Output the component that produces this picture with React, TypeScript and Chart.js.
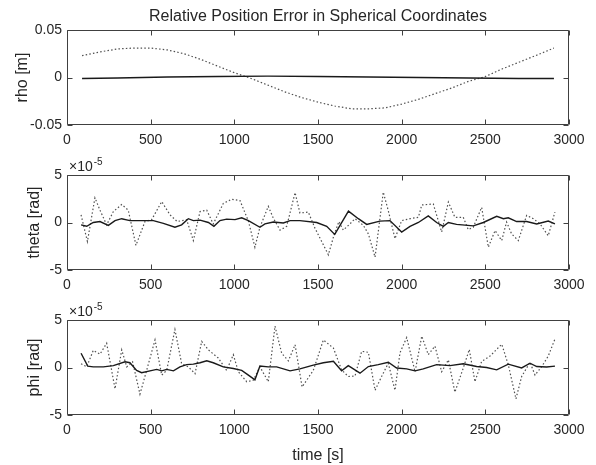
import React, { useEffect, useRef } from 'react';
import { Chart, registerables } from 'chart.js';

Chart.register(...registerables);

// ---------- data ----------
const xTicks = [0, 500, 1000, 1500, 2000, 2500, 3000];
const rhoTicks = [-0.05, 0, 0.05];
const angleTicks = [-5, 0, 5]; // in units of 1e-5 rad

// rho [m]
const rhoLineT = [90, 300, 600, 900, 1200, 1500, 1800, 2100, 2400, 2700, 2910];
const rhoLine = [-0.001, -0.0005, 0.0005, 0.001, 0.0015, 0.001, 0.0005, 0, -0.0005, -0.001, -0.001];
const rhoDotT = [90, 200, 300, 400, 500, 600, 700, 800, 900, 1000, 1100, 1200, 1300, 1400, 1500, 1600, 1700, 1800, 1900, 2000, 2100, 2200, 2300, 2400, 2500, 2600, 2700, 2800, 2910];
const rhoDot = [0.023, 0.027, 0.03, 0.031, 0.031, 0.029, 0.025, 0.019, 0.012, 0.005, -0.001, -0.008, -0.015, -0.021, -0.026, -0.03, -0.033, -0.033, -0.032, -0.028, -0.023, -0.017, -0.011, -0.004, 0.001, 0.009, 0.016, 0.023, 0.031];

// theta [rad] x 1e-5
const thetaLineT = [84, 118, 157, 197, 247, 287, 327, 376, 456, 516, 576, 645, 685, 725, 755, 795, 845, 878, 914, 954, 1004, 1044, 1084, 1153, 1183, 1233, 1293, 1333, 1392, 1492, 1552, 1600, 1682, 1741, 1791, 1870, 1930, 2000, 2050, 2100, 2159, 2209, 2249, 2279, 2328, 2428, 2488, 2568, 2608, 2637, 2687, 2747, 2807, 2876, 2916];
const thetaLine = [-0.25, -0.4, 0, 0.1, -0.3, 0.2, 0.4, 0.2, 0.2, 0.2, -0.1, -0.5, -0.25, 0.4, 0.2, 0.25, 0, -0.4, 0.2, 0.35, 0.3, 0.5, 0.2, -0.5, -0.15, 0.05, -0.05, 0.2, 0.2, 0, -0.4, -1.25, 1.2, 0.4, -0.2, 0.15, 0.2, -1.0, -0.4, 0, 0.7, 0, -0.4, 0, -0.2, -0.35, 0, 0.65, 0.4, 0.5, 0.1, 0.1, -0.15, 0.15, -0.15];
const thetaDotT = [84, 122, 167, 197, 237, 277, 327, 366, 412, 466, 506, 566, 616, 659, 715, 755, 795, 835, 874, 934, 984, 1034, 1084, 1123, 1153, 1203, 1233, 1273, 1313, 1363, 1392, 1442, 1482, 1522, 1562, 1596, 1625, 1651, 1691, 1721, 1771, 1801, 1841, 1890, 1920, 1960, 2000, 2050, 2100, 2120, 2189, 2239, 2279, 2318, 2368, 2398, 2428, 2478, 2518, 2558, 2598, 2627, 2657, 2697, 2747, 2787, 2827, 2876, 2916];
const thetaDot = [0.8, -2.0, 2.6, 1.3, -0.25, 1.15, 1.9, 1.3, -2.4, 0.1, 0.3, 2.2, 0.8, 0.1, 0.3, -1.9, 1.15, 1.3, -0.15, 2.0, 2.45, 2.3, 0.15, -2.6, -0.5, 1.7, 0.45, -0.8, -0.4, 3.15, 1.0, 1.1, -0.6, -2.0, -3.4, -1.3, 0.1, -0.8, -0.15, 0.4, -0.3, -1.2, -3.65, 3.2, 1.25, -1.7, 0.2, 0.4, 0.55, 1.85, 1.95, -1.0, 2.15, 0.55, 0.55, -0.75, -0.5, 1.6, -2.6, -0.85, -1.9, 0.05, -1.2, -1.9, 0.75, 0.4, -0.15, -1.4, 1.1];

// phi [rad] x 1e-5
const phiLineT = [84, 124, 157, 217, 277, 347, 376, 416, 446, 496, 536, 566, 596, 636, 675, 715, 755, 795, 835, 874, 934, 994, 1044, 1084, 1123, 1153, 1203, 1253, 1333, 1392, 1472, 1532, 1592, 1641, 1681, 1751, 1801, 1860, 1920, 1970, 2030, 2080, 2129, 2209, 2289, 2368, 2448, 2508, 2568, 2637, 2717, 2767, 2807, 2866, 2916];
const phiLine = [1.5, 0.15, 0.07, 0.07, 0.2, 0.6, 0.5, -0.3, -0.55, -0.35, -0.2, -0.35, -0.2, -0.35, 0.07, 0.3, 0.35, 0.5, 0.7, 0.5, 0.07, -0.1, -0.3, -0.8, -1.3, 0.15, 0.07, 0.07, -0.35, -0.15, 0.25, 0.5, 0.65, -0.35, 0.2, -0.6, 0.1, 0.3, 0.55, -0.05, -0.15, -0.35, -0.15, 0.3, 0.2, 0.4, 0.1, 0, -0.25, 0.35, -0.05, 0.45, 0.1, 0.05, 0.15];
const phiDotT = [84, 118, 157, 197, 237, 287, 327, 357, 392, 436, 476, 526, 566, 596, 645, 685, 725, 765, 805, 845, 904, 954, 994, 1024, 1074, 1113, 1153, 1203, 1243, 1283, 1323, 1363, 1405, 1472, 1532, 1592, 1641, 1681, 1721, 1761, 1801, 1841, 1880, 1920, 1960, 1990, 2030, 2080, 2120, 2159, 2199, 2239, 2279, 2318, 2368, 2404, 2438, 2478, 2528, 2598, 2637, 2683, 2717, 2767, 2797, 2837, 2876, 2916];
const phiDot = [0.4, 0.07, 1.8, 1.4, 2.55, -2.25, 1.85, 0.07, 0.6, -2.8, -0.3, 2.9, -0.8, -0.3, 4.0, 0.4, 0.07, -0.65, 2.75, 1.85, 1.0, -0.3, 1.35, -0.45, -1.5, -1.35, 0.07, -1.5, 4.35, 1.5, 0.7, 2.4, -2.05, -0.3, 2.9, 2.05, -0.25, -0.95, -0.9, 1.7, 1.6, -2.4, -0.95, 0.45, -2.4, 1.55, 3.15, -0.45, 3.3, 1.35, 2.25, -0.45, 0.8, -2.6, -0.07, 1.9, -1.5, 0.65, 1.2, 2.45, 0.3, -3.3, -0.95, 0.55, -0.8, 0.1, 1.2, 3.0];

// ---------- style ----------
const FONT = "'Liberation Sans', Arial, Helvetica, sans-serif";
const TEXT = '#262626';
const AXIS = '#404040';
const TICK_LEN = 5;

const boxPlugin = {
  id: 'box',
  afterDraw(chart: any, _args: any, opts: any) {
    const { ctx, chartArea: a, scales } = chart;
    const xs = scales.x;
    const ys = scales.y;
    const L = Math.round(a.left) + 0.5;
    const R = Math.round(a.right) - 0.5;
    const T = Math.round(a.top) + 0.5;
    const B = Math.round(a.bottom) - 0.5;
    ctx.save();
    ctx.strokeStyle = AXIS;
    ctx.lineWidth = 1;
    ctx.beginPath();
    ctx.rect(L, T, R - L, B - T);
    xs.ticks.forEach((t: any) => {
      const px = Math.round(xs.getPixelForValue(t.value)) + 0.5;
      ctx.moveTo(px, B);
      ctx.lineTo(px, B - TICK_LEN);
      ctx.moveTo(px, T);
      ctx.lineTo(px, T + TICK_LEN);
    });
    ys.ticks.forEach((t: any) => {
      const py = Math.round(ys.getPixelForValue(t.value)) + 0.5;
      ctx.moveTo(L, py);
      ctx.lineTo(L + TICK_LEN, py);
      ctx.moveTo(R, py);
      ctx.lineTo(R - TICK_LEN, py);
    });
    ctx.stroke();
    ctx.fillStyle = TEXT;
    if (opts && opts.title) {
      ctx.font = `16px ${FONT}`;
      ctx.textAlign = 'center';
      ctx.textBaseline = 'middle';
      ctx.fillText(opts.title, (a.left + a.right) / 2, opts.titleY);
    }
    if (opts && opts.exponent) {
      ctx.textAlign = 'left';
      ctx.textBaseline = 'alphabetic';
      ctx.font = `14px ${FONT}`;
      const base = '\u00d710';
      ctx.fillText(base, a.left + 2, a.top - 4);
      const w = ctx.measureText(base).width;
      ctx.font = `10px ${FONT}`;
      ctx.fillText(opts.exponent, a.left + 2 + w + 1, a.top - 10);
    }
    ctx.restore();
  },
};

type PanelProps = {
  top: number;
  height: number;
  xH: number;
  yMin: number;
  yMax: number;
  yTicks: number[];
  yTitle: string;
  yTitlePad: number;
  lineT: number[];
  line: number[];
  dotT: number[];
  dot: number[];
  title?: string;
  exponent?: string;
  xTitle?: string;
};

function Panel(p: PanelProps) {
  const ref = useRef<HTMLCanvasElement | null>(null);
  useEffect(() => {
    if (!ref.current) return;
    const chart = new Chart(ref.current, {
      type: 'scatter',
      data: {
        datasets: [
          {
            data: p.lineT.map((t, i) => ({ x: t, y: p.line[i] })),
            showLine: true,
            borderColor: '#1a1a1a',
            borderWidth: 1.4,
            pointRadius: 0,
            tension: 0,
            order: 0,
          },
          {
            data: p.dotT.map((t, i) => ({ x: t, y: p.dot[i] })),
            showLine: true,
            borderColor: '#505050',
            borderWidth: 1.2,
            borderDash: [1.5, 2.2],
            pointRadius: 0,
            tension: 0,
            order: 1,
          },
        ],
      },
      options: {
        animation: false,
        responsive: false,
        events: [],
        layout: { padding: { top: 30, right: 27, left: 0, bottom: 0 } },
        plugins: {
          legend: { display: false },
          tooltip: { enabled: false },
          box: { title: p.title, titleY: 17, exponent: p.exponent },
        } as any,
        scales: {
          x: {
            type: 'linear',
            min: 0,
            max: 3000,
            afterBuildTicks: (s: any) => {
              s.ticks = xTicks.map((v) => ({ value: v }));
            },
            afterFit: (s: any) => {
              s.height = p.xH;
            },
            grid: { display: false, drawTicks: false },
            border: { display: false },
            ticks: {
              padding: 7,
              color: TEXT,
              font: { size: 14, family: FONT },
              maxRotation: 0,
              autoSkip: false,
              callback: (v: any) => String(v),
            },
            title: p.xTitle
              ? {
                  display: true,
                  text: p.xTitle,
                  color: TEXT,
                  font: { size: 16, family: FONT },
                  padding: { top: 0, bottom: 0 },
                }
              : { display: false },
          },
          y: {
            type: 'linear',
            min: p.yMin,
            max: p.yMax,
            afterBuildTicks: (s: any) => {
              s.ticks = p.yTicks.map((v) => ({ value: v }));
            },
            afterFit: (s: any) => {
              s.width = 67;
            },
            grid: { display: false, drawTicks: false },
            border: { display: false },
            ticks: {
              padding: 5,
              color: TEXT,
              font: { size: 14, family: FONT },
              callback: (v: any) => String(Math.round(Number(v) * 1000) / 1000),
            },
            title: {
              display: true,
              text: p.yTitle,
              color: TEXT,
              font: { size: 16, family: FONT },
              padding: { top: p.yTitlePad, bottom: 0 },
            },
          },
        },
      } as any,
      plugins: [boxPlugin as any],
    });
    return () => chart.destroy();
  }, []);
  return (
    <canvas
      ref={ref}
      width={596}
      height={p.height}
      style={{ position: 'absolute', left: 0, top: p.top, width: 596, height: p.height }}
    />
  );
}

export default function App() {
  return (
    <div style={{ position: 'fixed', left: 0, top: 0, width: 596, height: 465, background: '#fff', overflow: 'hidden' }}>
      <Panel
        top={0}
        height={145}
        xH={20}
        yMin={-0.05}
        yMax={0.05}
        yTicks={rhoTicks}
        yTitle="rho [m]"
        yTitlePad={13.4}
        lineT={rhoLineT}
        line={rhoLine}
        dotT={rhoDotT}
        dot={rhoDot}
        title="Relative Position Error in Spherical Coordinates"
      />
      <Panel
        top={145}
        height={145}
        xH={20}
        yMin={-5}
        yMax={5}
        yTicks={angleTicks}
        yTitle="theta [rad]"
        yTitlePad={25.4}
        lineT={thetaLineT}
        line={thetaLine}
        dotT={thetaDotT}
        dot={thetaDot}
        exponent="-5"
      />
      <Panel
        top={290}
        height={175}
        xH={50}
        yMin={-5}
        yMax={5}
        yTicks={angleTicks}
        yTitle="phi [rad]"
        yTitlePad={25.4}
        lineT={phiLineT}
        line={phiLine}
        dotT={phiDotT}
        dot={phiDot}
        exponent="-5"
        xTitle="time [s]"
      />
    </div>
  );
}
